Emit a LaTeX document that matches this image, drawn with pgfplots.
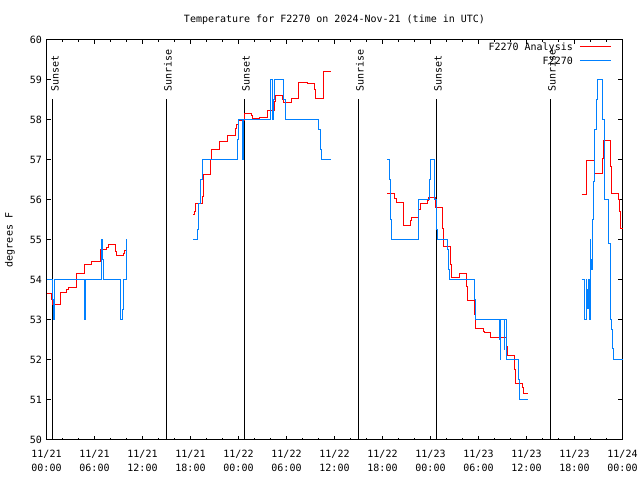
\documentclass[border=0pt]{standalone}
\usepackage{pgfplots}
\pgfplotsset{compat=1.18}
\usepackage{fontspec}
\setmainfont{DejaVu Sans Mono}
\definecolor{gpred}{RGB}{255,0,0}
\definecolor{gpblue}{RGB}{0,128,255}
\begin{document}
\begin{tikzpicture}[font=\fontsize{10bp}{12bp}\selectfont]
\useasboundingbox (-46.5bp,-40bp) rectangle (593.5bp,440bp);
\begin{axis}[
  at={(0,0)}, anchor=south west,
  scale only axis, width=576bp, height=400bp,
  xmin=0, xmax=72, ymin=50, ymax=60,
  xtick={0,6,...,72},
  xticklabels={{11/21\\00:00},{11/21\\06:00},{11/21\\12:00},{11/21\\18:00},{11/22\\00:00},{11/22\\06:00},{11/22\\12:00},{11/22\\18:00},{11/23\\00:00},{11/23\\06:00},{11/23\\12:00},{11/23\\18:00},{11/24\\00:00}},
  minor x tick num=2,
  ytick={50,51,...,60},
  tick align=inside,
  major tick length=4.5bp, minor tick length=2.5bp,
  every tick/.append style={black, line width=1bp},
  axis line style={line width=1bp},
  title={Temperature for F2270 on 2024-Nov-21 (time in UTC)},
  title style={at={(0.5,1)}, anchor=center, yshift=14bp},
  ylabel={degrees F},
  ylabel style={at={(axis description cs:-0.0634,0.5)}, anchor=center},
  /pgf/number format/assume math mode=true,
  yticklabel style={xshift=-1bp},
  xticklabel style={align=center, font=\fontsize{10bp}{14bp}\selectfont, yshift=-7bp},
  clip=false,
]
% sunrise / sunset markers
\addplot[black, line width=1bp, forget plot] coordinates {(0.81,50) (0.81,58.52)};
\addplot[black, line width=1bp, forget plot] coordinates {(14.94,50) (14.94,58.52)};
\addplot[black, line width=1bp, forget plot] coordinates {(24.69,50) (24.69,58.52)};
\addplot[black, line width=1bp, forget plot] coordinates {(38.94,50) (38.94,58.52)};
\addplot[black, line width=1bp, forget plot] coordinates {(48.69,50) (48.69,58.52)};
\addplot[black, line width=1bp, forget plot] coordinates {(62.94,50) (62.94,58.52)};
\node[rotate=90, anchor=base west, inner sep=0pt] at (axis cs:1.52,58.71) {Sunset};
\node[rotate=90, anchor=base west, inner sep=0pt] at (axis cs:15.65,58.71) {Sunrise};
\node[rotate=90, anchor=base west, inner sep=0pt] at (axis cs:25.40,58.71) {Sunset};
\node[rotate=90, anchor=base west, inner sep=0pt] at (axis cs:39.65,58.71) {Sunrise};
\node[rotate=90, anchor=base west, inner sep=0pt] at (axis cs:49.40,58.71) {Sunset};
\node[rotate=90, anchor=base west, inner sep=0pt] at (axis cs:63.65,58.71) {Sunrise};

% F2270 Analysis (red)
\addplot[gpred, line width=1bp, const plot] coordinates {
(0.02,53.65)(0.65,53.5)(0.77,53.375)(1.69,53.69)(2.52,53.75)(2.73,53.81)(3.69,54.0)(3.77,54.15)(4.69,54.39)(5.65,54.46)(6.69,54.67)(6.81,54.75)(7.52,54.81)(7.73,54.875)(8.6,54.7)(8.77,54.6)(9.6,54.67)(9.81,54.73)(10.0,54.73)};
\addplot[gpred, line width=1bp, const plot] coordinates {
(18.35,55.64)(18.48,55.71)(18.65,55.92)(19.48,56.08)(19.6,56.625)(20.52,57.0)(20.65,57.27)(21.6,57.46)(22.65,57.6)(23.6,57.79)(23.77,57.875)(23.98,57.98)(24.73,58.17)(25.65,58.1)(25.77,58.04)(26.6,58.07)(27.6,58.23)(28.48,58.46)(28.65,58.6)(29.48,58.52)(29.6,58.44)(30.6,58.54)(31.56,58.93)(32.6,58.9)(33.56,58.75)(33.6,58.54)(34.6,58.875)(34.65,59.21)(35.52,59.21)};
\addplot[gpred, line width=1bp, const plot] coordinates {
(42.61,56.17)(43.56,56.04)(43.69,55.94)(44.6,55.64)(44.65,55.35)(45.56,55.48)(45.65,55.57)(46.56,55.75)(46.69,55.92)(47.6,55.98)(47.81,56.06)(48.6,55.82)(49.56,55.29)(49.6,54.83)(50.56,54.39)(50.65,54.05)(51.6,54.17)(52.56,53.83)(52.61,53.475)(53.56,53.125)(53.61,52.775)(54.6,52.72)(54.81,52.68)(55.52,52.57)(57.52,52.33)(57.61,52.1)(58.52,51.75)(58.61,51.42)(59.52,51.32)(59.61,51.17)(60.23,51.17)};
\addplot[gpred, line width=1bp, const plot] coordinates {
(66.9,56.14)(67.44,56.54)(67.52,56.975)(68.44,56.8)(68.56,56.65)(69.48,57.04)(69.6,57.475)(70.52,56.83)(70.65,56.17)(71.48,56.02)(71.6,55.71)(71.69,55.29)(72.0,55.29)};

% F2270 (blue)
\addplot[gpblue, line width=1bp, const plot] coordinates {
(0.0,54.0)(0.73,53.5)(0.85,53.0)(0.94,54.0)(4.73,53.0)(4.85,54.0)(6.9,55.0)(7.02,54.5)(7.1,54.0)(9.19,53.25)(9.27,53.0)(9.48,53.25)(9.6,54.0)(9.94,55.0)(10.02,55.0)};
\addplot[gpblue, line width=1bp, const plot] coordinates {
(18.35,55.0)(18.9,55.25)(19.06,55.9)(19.2,56.5)(19.48,57.0)(23.9,57.5)(24.02,58.0)(24.52,57.0)(24.62,58.0)(27.94,58.5)(28.06,59.0)(28.19,58.0)(28.35,58.5)(28.48,59.0)(29.6,58.5)(29.85,58.0)(34.02,57.75)(34.27,57.25)(34.4,57.0)(35.52,57.0)};
\addplot[gpblue, line width=1bp, const plot] coordinates {
(42.61,57.0)(42.86,56.5)(42.94,55.52)(43.1,55.0)(46.56,56.02)(47.86,56.5)(47.98,57.0)(48.44,56.5)(48.56,56.0)(48.69,55.25)(48.86,55.0)(50.11,54.75)(50.31,54.25)(50.4,54.0)(53.56,53.5)(53.65,53.0)(56.61,52.5)(56.69,52.0)(56.81,53.0)(57.23,52.25)(57.31,53.0)(57.45,52.5)(57.52,52.0)(58.98,51.5)(59.1,51.0)(60.23,51.0)};
\addplot[gpblue, line width=1bp, const plot] coordinates {
(66.9,54.0)(67.23,53.29)(67.31,53.0)(67.44,54.0)(67.52,53.75)(67.65,53.29)(67.73,54.0)(67.85,53.0)(67.94,55.0)(68.06,54.5)(68.15,54.25)(68.23,55.5)(68.36,56.46)(68.48,57.25)(68.56,57.75)(68.75,58.5)(68.86,59.0)(69.52,58.0)(69.69,56.0)(70.23,55.25)(70.31,54.92)(70.44,54.0)(70.56,53.0)(70.65,52.75)(70.77,52.29)(70.86,52.0)(72.0,52.0)};

% legend
\node[anchor=base east, inner sep=0pt] at (axis description cs:0.9141,0.97375) {F2270 Analysis};
\node[anchor=base east, inner sep=0pt] at (axis description cs:0.9141,0.93875) {F2270};
\draw[color=gpred, line width=1bp] (axis description cs:0.9262,0.9825) -- (axis description cs:0.9800,0.9825);
\draw[color=gpblue, line width=1bp] (axis description cs:0.9262,0.9475) -- (axis description cs:0.9800,0.9475);
\end{axis}
\end{tikzpicture}
\end{document}
